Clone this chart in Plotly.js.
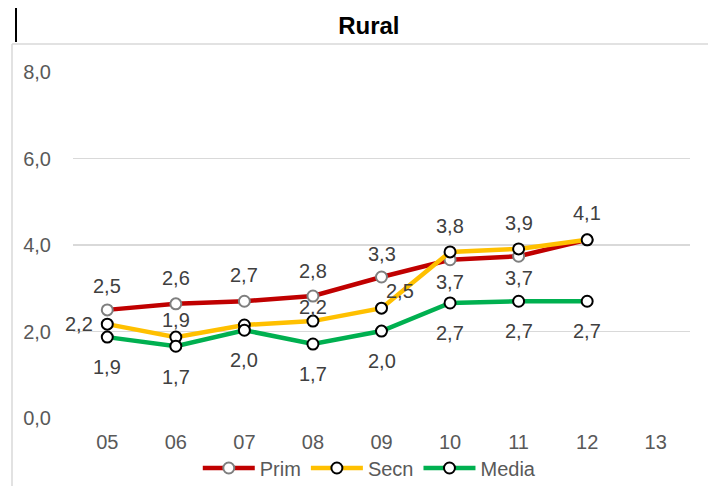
<!DOCTYPE html>
<html>
<head>
<meta charset="utf-8">
<script src="https://cdn.plot.ly/plotly-3.0.1.min.js"></script>
<style>
  body { margin: 0; background: #fff; }
  #chart { width: 708px; height: 486px; }
</style>
</head>
<body>
<div id="chart"></div>
<script>
var years = ['05', '06', '07', '08', '09', '10', '11', '12', '13'];

var prim = [2.5, 2.64, 2.7, 2.82, 3.26, 3.66, 3.74, 4.12, null];
var secn = [2.17, 1.87, 2.15, 2.24, 2.54, 3.84, 3.91, 4.12, null];
var media = [1.87, 1.66, 2.03, 1.71, 2.01, 2.66, 2.7, 2.7, null];

// label placement per point: [dx, dy] in px, null = no label
var primLbl = [[0, 24], [0, 26], [0, 26], [0, 25], [0, 23], [0, -22], [0, -22], null, null];
var secnLbl = [[-28, 0], [0, 17], null, [0, 14], [18, 17], [0, 26], [0, 26], [0, 27], null];
var mediaLbl = [[0, -30], [0, -31], [0, -30], [0, -30], [0, -30], [0, -30], [0, -30], [0, -30], null];

var FONT = 'Liberation Sans Narrow, Arial Narrow, Liberation Sans, Arial';

function serie(name, vals, color, edge) {
  return {
    type: 'scatter',
    mode: 'lines+markers',
    name: name,
    x: years,
    y: vals,
    line: { color: color, width: 4.5 },
    marker: { size: 11, color: '#fff', line: { color: edge, width: 2 } },
    cliponaxis: false
  };
}

function labelNotes(vals, place) {
  var out = [];
  vals.forEach(function (v, i) {
    if (v === null || !place[i]) return;
    out.push({
      // category axis: position by index, '05' would be read as 5
      xref: 'x', yref: 'y', x: i, y: v,
      text: v.toFixed(1).replace('.', ','),
      showarrow: false,
      xshift: place[i][0], yshift: place[i][1],
      font: { family: FONT, size: 20, color: '#404040' }
    });
  });
  return out;
}

var traces = [
  serie('Prim', prim, '#C00000', '#7f7f7f'),
  serie('Secn', secn, '#FFC000', '#000'),
  serie('Media', media, '#00B050', '#000')
];

var notes = [].concat(labelNotes(prim, primLbl), labelNotes(secn, secnLbl), labelNotes(media, mediaLbl));

// paper coords for the frame lines (plot spans px 73..690, 72..418)
function px(x) { return (x - 73) / 617; }
function py(y) { return (418 - y) / 346; }

var layout = {
  width: 708,
  height: 486,
  paper_bgcolor: '#fff',
  plot_bgcolor: '#fff',
  separators: ',.',
  font: { family: FONT, color: '#595959' },
  title: {
    text: '<b>Rural</b>',
    font: { family: FONT, size: 24, color: '#000' },
    xref: 'container', x: 0.521, xanchor: 'center',
    yref: 'container', y: 0.948, yanchor: 'middle'
  },
  margin: { l: 73, r: 18, t: 72, b: 68, pad: 0, autoexpand: false },
  xaxis: {
    type: 'category',
    range: [-0.5, 8.5],
    showgrid: false,
    showline: false,
    zeroline: false,
    ticks: '',
    ticklabelstandoff: 10,
    tickfont: { family: FONT, size: 20, color: '#595959' },
    fixedrange: true
  },
  yaxis: {
    range: [0, 8],
    dtick: 2,
    tickformat: '.1f',
    showgrid: true,
    gridcolor: '#d9d9d9',
    gridwidth: 1.5,
    zeroline: false,
    showline: false,
    ticks: '',
    ticklabelstandoff: 21,
    tickfont: { family: FONT, size: 20, color: '#595959' },
    fixedrange: true
  },
  showlegend: true,
  legend: {
    orientation: 'h',
    x: 0.481, xanchor: 'center',
    y: py(468), yanchor: 'middle',
    bgcolor: 'rgba(0,0,0,0)',
    font: { family: FONT, size: 20, color: '#595959' },
    itemwidth: 52,
    tracegroupgap: 0
  },
  annotations: notes,
  shapes: [
    { type: 'line', xref: 'paper', yref: 'paper', x0: px(16), x1: px(16), y0: py(8), y1: py(42),
      line: { color: '#000', width: 2 } },
    { type: 'line', xref: 'paper', yref: 'paper', x0: px(12), x1: px(708), y0: py(44), y1: py(44),
      line: { color: '#d9d9d9', width: 1.5 } },
    { type: 'line', xref: 'paper', yref: 'paper', x0: px(12), x1: px(12), y0: py(44), y1: py(486),
      line: { color: '#d9d9d9', width: 1.5 } }
  ]
};

Plotly.newPlot('chart', traces, layout, { displayModeBar: false, staticPlot: true });
</script>
</body>
</html>
